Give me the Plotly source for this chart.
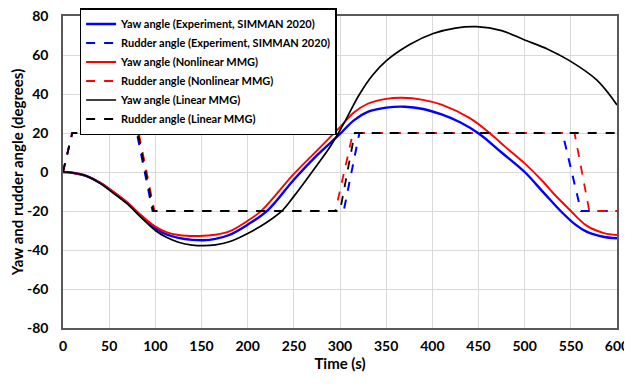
import plotly.graph_objects as go

# Yaw angle, experiment (SIMMAN 2020)
t_yaw_exp = [0, 10, 25, 40, 55, 70, 85, 100, 112, 125, 140, 152, 165, 180, 200, 222, 250, 275, 300, 315, 330, 350, 370, 390, 410, 430, 451, 475, 500, 520, 540, 555, 567, 585, 600]
yaw_exp = [0, -0.4, -2, -5.5, -10.5, -16, -23, -28.8, -32, -33.8, -34.8, -35, -34.3, -32.3, -27, -19.5, -4, 8.5, 19.5, 26.5, 30.8, 33, 33.5, 32.3, 29.5, 25.5, 19.5, 10, 0, -10.3, -20.5, -27, -30.6, -33.2, -34]

# Yaw angle, nonlinear MMG
t_yaw_nl = [0, 10, 25, 40, 55, 70, 85, 100, 112, 125, 148, 165, 180, 200, 215, 250, 275, 300, 315, 330, 350, 367, 390, 410, 441, 462, 480, 500, 520, 531, 549, 567, 585, 600]
yaw_nl = [0, -0.4, -2, -5.4, -10.3, -15.7, -22.3, -28, -30.8, -32.3, -32.8, -32.2, -30.5, -25, -19.8, -1, 11, 23, 30.5, 35, 37.5, 38.1, 37, 34.5, 27.5, 20, 12.5, 4.4, -5, -10.9, -19.5, -27.5, -31.2, -32.3]

# Yaw angle, linear MMG
t_yaw_lin = [0, 10, 25, 40, 55, 70, 85, 100, 112, 125, 140, 152, 165, 180, 200, 220, 238, 250, 275, 290, 306, 320, 335, 350, 376, 401, 425, 448, 475, 500, 525, 549, 578, 600]
yaw_lin = [0, -0.4, -2, -5.8, -11, -16.5, -23.5, -30, -33.5, -36, -37.5, -37.8, -37.4, -35.8, -31.5, -26, -19.5, -12.5, 3.5, 13.5, 26.5, 39, 49.5, 57, 65.5, 71, 73.8, 74.5, 72.5, 67.7, 63, 57, 47.2, 34.4]

# Rudder angles
t_rud_exp = [0, 10, 80, 97, 304, 321, 541, 561, 600]
rud_exp = [0, 20, 20, -20, -20, 20, 20, -20, -20]
t_rud_nl = [0, 10, 82, 99, 295, 314, 554, 570, 600]
rud_nl = [0, 20, 20, -20, -20, 20, 20, -20, -20]
t_rud_lin = [0, 10, 81, 98, 300, 316, 600]
rud_lin = [0, 20, 20, -20, -20, 20, 20]

x_ticks = list(range(0, 601, 50))
y_ticks = list(range(-80, 81, 20))

FONT = "Lato"
BLUE, RED, BLACK = "#0000FF", "#FF0000", "#000000"

fig = go.Figure()
fig.add_trace(go.Scatter(x=t_yaw_exp, y=yaw_exp, mode="lines", name="Yaw angle (Experiment, SIMMAN 2020)",
                         line=dict(color=BLUE, width=2.4, shape="spline", smoothing=1.0)))
fig.add_trace(go.Scatter(x=t_rud_exp, y=rud_exp, mode="lines", name="Rudder angle (Experiment, SIMMAN 2020)",
                         line=dict(color=BLUE, width=2, dash="dash")))
fig.add_trace(go.Scatter(x=t_yaw_nl, y=yaw_nl, mode="lines", name="Yaw angle (Nonlinear MMG)",
                         line=dict(color=RED, width=1.9, shape="spline", smoothing=1.0)))
fig.add_trace(go.Scatter(x=t_rud_nl, y=rud_nl, mode="lines", name="Rudder angle (Nonlinear MMG)",
                         line=dict(color=RED, width=1.8, dash="dash")))
fig.add_trace(go.Scatter(x=t_yaw_lin, y=yaw_lin, mode="lines", name="Yaw angle (Linear MMG)",
                         line=dict(color=BLACK, width=1.7, shape="spline", smoothing=1.0)))
fig.add_trace(go.Scatter(x=t_rud_lin, y=rud_lin, mode="lines", name="Rudder angle (Linear MMG)",
                         line=dict(color=BLACK, width=1.8, dash="dash")))

fig.update_layout(
    width=624, height=380,
    margin=dict(l=55, r=15, t=8, b=60, autoexpand=False),
    paper_bgcolor="white", plot_bgcolor="white",
    font=dict(family=FONT, size=14, color="black"),
    showlegend=True,
    legend=dict(x=0.03, y=1.0256, xanchor="left", yanchor="top",
                bgcolor="white", bordercolor="black", borderwidth=1.5,
                font=dict(family=FONT, size=11, color="black", weight="bold"),
                itemwidth=30, tracegroupgap=0),
)
fig.update_xaxes(range=[0, 600], tickvals=x_ticks, ticktext=[str(v) for v in x_ticks],
                 showgrid=True, gridcolor="#D9D9D9", gridwidth=1, zeroline=False,
                 showline=True, linecolor="#595959", linewidth=1.5, mirror=True,
                 ticks="", ticklabelstandoff=4, ticklabeloverflow="allow",
                 tickfont=dict(family=FONT, size=14, weight="bold"),
                 title=dict(text="<b>Time (s)</b>", font=dict(family=FONT, size=15), standoff=6))
fig.update_yaxes(range=[-80, 80], tickvals=y_ticks, ticktext=[str(v) for v in y_ticks],
                 showgrid=True, gridcolor="#D9D9D9", gridwidth=1, zeroline=False,
                 showline=True, linecolor="#595959", linewidth=1.5, mirror=True,
                 ticks="", ticklabelstandoff=10, ticklabeloverflow="allow",
                 tickfont=dict(family=FONT, size=14, weight="bold"),
                 title=dict(text="<b>Yaw and rudder angle (degrees)</b>", font=dict(family=FONT, size=15), standoff=4))

fig.write_html("out.html")
